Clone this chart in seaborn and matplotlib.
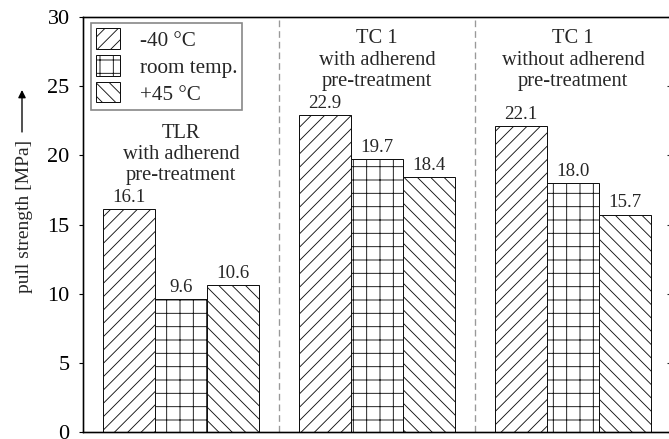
import matplotlib
matplotlib.use("Agg")
import matplotlib.pyplot as plt
import seaborn as sns
import pandas as pd

# ---- data ----
group_titles = ["TLR", "TC 1", "TC 1"]
group_subtitles = ["with adherend\npre-treatment",
                   "with adherend\npre-treatment",
                   "without adherend\npre-treatment"]
conditions = ["-40 °C", "room temp.", "+45 °C"]
minus40 = [16.1, 22.9, 22.1]
room_temp = [9.6, 19.7, 18.0]
plus45 = [10.6, 18.4, 15.7]
y_ticks = [0, 5, 10, 15, 20, 25, 30]

categories = [f"{t}\n{s}" for t, s in zip(group_titles, group_subtitles)]
df = pd.DataFrame({
    "group": categories * 3,
    "condition": [c for c in conditions for _ in categories],
    "value": minus40 + room_temp + plus45,
})

# ---- style ----
sns.set_style("ticks")
plt.rcParams["font.family"] = ["Liberation Serif", "DejaVu Sans"]
plt.rcParams["hatch.linewidth"] = 0.8
plt.rcParams["axes.edgecolor"] = "black"
plt.rcParams["axes.linewidth"] = 1.2

DPI = 80
W, H = 669, 439
fig = plt.figure(figsize=(W / DPI, H / DPI), dpi=DPI)
ax = fig.add_axes([83 / W, 7 / H, 588 / W, 415 / H])

sns.barplot(data=df, x="group", y="value", hue="condition",
            order=categories, hue_order=conditions,
            palette=["white"] * 3, saturation=1, edgecolor="#111111",
            linewidth=0.9, width=0.8, ax=ax, legend=False)

hatches = ["//", "+", "\\\\"]
for cont, h in zip(ax.containers, hatches):
    for p in cont.patches:
        p.set_hatch(h)
    ax.bar_label(cont, fmt="%.1f", padding=3, fontsize=17)

# group annotations
annot_top = [22.3, 29.1, 29.1]
for i, cat in enumerate(categories):
    ax.text(i, annot_top[i], cat, ha="center", va="top", fontsize=18.5,
            linespacing=1.15)

# dashed separators
for xs in [0.5, 1.5]:
    ax.axvline(xs, color="#999999", ls=(0, (5, 3)), lw=1.2, zorder=0)

ax.set_xlim(-0.5, 2.5)
ax.set_ylim(0, 30)
ax.set_yticks(y_ticks)
ax.set_xticks([])
ax.set_xlabel("")
ax.tick_params(axis="y", labelsize=20, length=4, width=1, direction="out",
               pad=8, colors="black")

ax.set_ylabel("pull strength [MPa]", fontsize=17.5)
ax.yaxis.set_label_coords(-0.085, 0.52)

# right-side inward ticks
ax2 = ax.twinx()
ax2.set_ylim(0, 30)
ax2.set_yticks(y_ticks)
ax2.tick_params(axis="y", direction="in", length=4, width=1, labelright=False)

leg = ax.legend(ax.containers, conditions, loc="upper left",
                bbox_to_anchor=(8 / 588, 1 - 6 / 415), borderaxespad=0,
                fontsize=19, handlelength=1.1, handleheight=1.1,
                handletextpad=0.95, labelspacing=0.22, borderpad=0.25,
                fancybox=False, framealpha=1, edgecolor="#888888")
leg.get_frame().set_linewidth(1.5)

# arrow next to the y label
ax.annotate("", xy=(22, H - 90), xytext=(22, H - 132),
            xycoords="figure pixels", textcoords="figure pixels",
            arrowprops=dict(arrowstyle="-|>", color="black", lw=1.2,
                            mutation_scale=14, shrinkA=0, shrinkB=0))

fig.savefig("out.png", dpi=DPI)
